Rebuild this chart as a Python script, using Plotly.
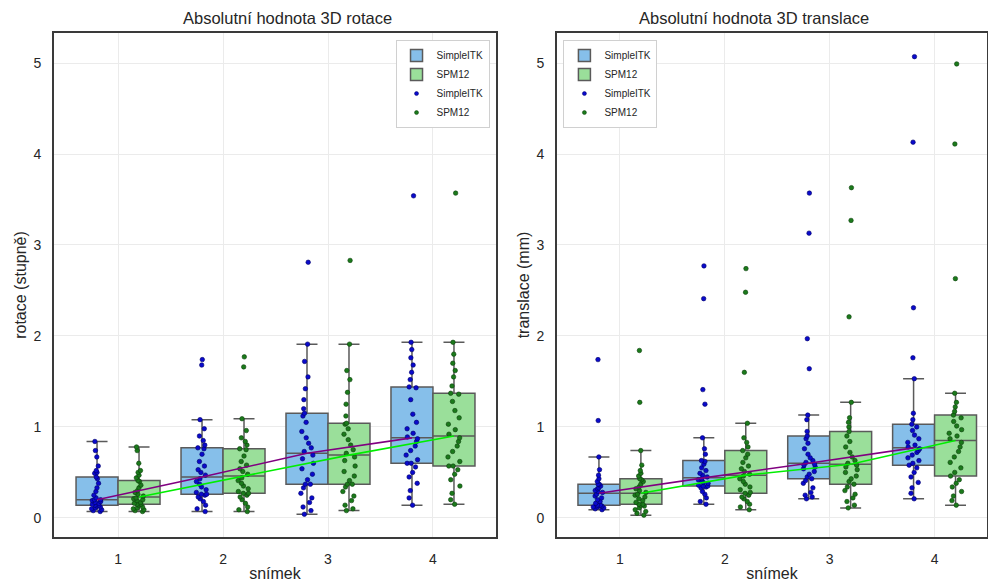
import numpy as np
import plotly.graph_objects as go
from plotly.subplots import make_subplots

# categories (frame number) and methods
snimky = ["1", "2", "3", "4"]
metody = ["SimpleITK", "SPM12"]

# absolute 3D rotation (degrees), one list per frame
rotace_simpleitk = [
    [0.07, 0.08, 0.09, 0.10, 0.11, 0.12, 0.13, 0.14, 0.14, 0.15, 0.16, 0.17, 0.18, 0.19, 0.20,
     0.20, 0.22, 0.25, 0.29, 0.33, 0.38, 0.43, 0.45, 0.49, 0.50, 0.52, 0.57, 0.67, 0.74, 0.84],
    [0.07, 0.10, 0.14, 0.18, 0.21, 0.23, 0.25, 0.26, 0.26, 0.28, 0.31, 0.34, 0.37, 0.40, 0.43,
     0.47, 0.50, 0.53, 0.57, 0.62, 0.70, 0.76, 0.77, 0.80, 0.85, 0.90, 0.98, 1.08, 1.68, 1.74],
    [0.04, 0.08, 0.12, 0.17, 0.22, 0.27, 0.33, 0.37, 0.37, 0.42, 0.48, 0.54, 0.60, 0.65, 0.69,
     0.73, 0.77, 0.82, 0.88, 0.95, 1.05, 1.12, 1.15, 1.20, 1.30, 1.42, 1.55, 1.72, 1.91, 2.81],
    [0.14, 0.22, 0.30, 0.38, 0.45, 0.50, 0.56, 0.60, 0.60, 0.64, 0.69, 0.74, 0.79, 0.84, 0.87,
     0.89, 0.93, 0.98, 1.05, 1.14, 1.30, 1.43, 1.44, 1.52, 1.60, 1.68, 1.76, 1.85, 1.93, 3.54],
]
rotace_spm12 = [
    [0.07, 0.08, 0.09, 0.10, 0.11, 0.12, 0.14, 0.15, 0.15, 0.16, 0.17, 0.19, 0.20, 0.21, 0.22,
     0.24, 0.26, 0.28, 0.30, 0.33, 0.36, 0.40, 0.41, 0.44, 0.47, 0.50, 0.52, 0.60, 0.74, 0.78],
    [0.07, 0.09, 0.12, 0.16, 0.20, 0.23, 0.25, 0.27, 0.27, 0.29, 0.32, 0.35, 0.38, 0.41, 0.44,
     0.48, 0.51, 0.54, 0.58, 0.62, 0.68, 0.75, 0.76, 0.80, 0.84, 0.88, 0.96, 1.09, 1.66, 1.77],
    [0.08, 0.10, 0.14, 0.19, 0.24, 0.29, 0.34, 0.37, 0.37, 0.41, 0.46, 0.51, 0.57, 0.63, 0.67,
     0.71, 0.75, 0.80, 0.86, 0.92, 0.98, 1.03, 1.04, 1.12, 1.25, 1.38, 1.52, 1.62, 1.91, 2.83],
    [0.15, 0.20, 0.27, 0.35, 0.42, 0.48, 0.53, 0.57, 0.57, 0.62, 0.67, 0.73, 0.79, 0.84, 0.88,
     0.92, 0.97, 1.03, 1.10, 1.18, 1.28, 1.36, 1.37, 1.45, 1.55, 1.62, 1.70, 1.80, 1.93, 3.57],
]

# absolute 3D translation (mm), one list per frame
translace_simpleitk = [
    [0.09, 0.10, 0.11, 0.12, 0.12, 0.13, 0.14, 0.14, 0.14, 0.16, 0.18, 0.20, 0.22, 0.24, 0.26,
     0.28, 0.29, 0.30, 0.32, 0.33, 0.35, 0.37, 0.37, 0.40, 0.43, 0.47, 0.53, 0.67, 1.07, 1.74],
    [0.15, 0.18, 0.22, 0.26, 0.29, 0.33, 0.34, 0.35, 0.35, 0.36, 0.38, 0.39, 0.41, 0.42, 0.43,
     0.45, 0.47, 0.49, 0.52, 0.55, 0.59, 0.62, 0.63, 0.70, 0.76, 0.88, 1.25, 1.41, 2.41, 2.77],
    [0.21, 0.23, 0.25, 0.28, 0.33, 0.38, 0.41, 0.43, 0.45, 0.48, 0.51, 0.54, 0.56, 0.58, 0.59,
     0.61, 0.63, 0.66, 0.70, 0.76, 0.82, 0.87, 0.90, 0.95, 1.08, 1.13, 1.64, 1.97, 3.13, 3.57],
    [0.21, 0.27, 0.33, 0.39, 0.45, 0.50, 0.55, 0.58, 0.60, 0.63, 0.66, 0.69, 0.72, 0.74, 0.76,
     0.78, 0.80, 0.83, 0.87, 0.91, 0.96, 1.00, 1.03, 1.08, 1.15, 1.53, 1.76, 2.31, 4.13, 5.07],
]
translace_spm12 = [
    [0.03, 0.05, 0.07, 0.09, 0.11, 0.13, 0.14, 0.15, 0.15, 0.17, 0.19, 0.21, 0.23, 0.25, 0.26,
     0.28, 0.30, 0.32, 0.34, 0.37, 0.40, 0.42, 0.43, 0.46, 0.49, 0.52, 0.58, 0.74, 1.27, 1.84],
    [0.09, 0.12, 0.15, 0.18, 0.21, 0.23, 0.25, 0.27, 0.28, 0.31, 0.34, 0.37, 0.40, 0.43, 0.46,
     0.48, 0.51, 0.54, 0.57, 0.61, 0.66, 0.70, 0.74, 0.78, 0.83, 0.88, 1.04, 1.60, 2.48, 2.74],
    [0.11, 0.14, 0.18, 0.22, 0.26, 0.30, 0.34, 0.37, 0.40, 0.43, 0.46, 0.50, 0.53, 0.56, 0.58,
     0.60, 0.63, 0.67, 0.72, 0.78, 0.84, 0.90, 0.95, 1.00, 1.05, 1.10, 1.27, 2.21, 3.27, 3.63],
    [0.14, 0.19, 0.24, 0.29, 0.34, 0.38, 0.42, 0.46, 0.50, 0.55, 0.61, 0.67, 0.73, 0.78, 0.83,
     0.87, 0.90, 0.93, 0.97, 1.01, 1.06, 1.10, 1.13, 1.17, 1.22, 1.27, 1.37, 2.63, 4.11, 4.99],
]

FONT = "Liberation Sans, Arial, sans-serif"
TEXT = "#262626"
BOX_FILL = {"SimpleITK": "#86BFEA", "SPM12": "#9ADF9A"}
DOT = {"SimpleITK": "#0A0ACC", "SPM12": "#1B7A1B"}
DOT_EDGE = {"SimpleITK": "#000066", "SPM12": "#0B3F0B"}
MEDIAN_LINE = {"SimpleITK": "#800080", "SPM12": "#00EE00"}
DODGE = 0.2
BOX_W = 0.4

fig = make_subplots(rows=1, cols=2, horizontal_spacing=0.0,
                    subplot_titles=("Absolutní hodnota 3D rotace",
                                    "Absolutní hodnota 3D translace"))

panels = [
    (1, {"SimpleITK": rotace_simpleitk, "SPM12": rotace_spm12}, "legend"),
    (2, {"SimpleITK": translace_simpleitk, "SPM12": translace_spm12}, "legend2"),
]

for col, data, leg in panels:
    # boxes with jittered sample points on top
    for k, m in enumerate(metody):
        offset = (k - 0.5) * 2 * DODGE
        xs, ys = [], []
        for i, vals in enumerate(data[m]):
            xs += [i + offset] * len(vals)
            ys += vals
        fig.add_trace(go.Box(
            x=xs, y=ys, name=m, legend=leg, legendgroup=m + leg,
            width=BOX_W, whiskerwidth=0.5,
            fillcolor=BOX_FILL[m], line=dict(color="#5A5A5A", width=1.5),
            boxpoints="all", jitter=0.32, pointpos=0,
            marker=dict(size=4.5, color=DOT[m], line=dict(color=DOT_EDGE[m], width=0.6)),
            showlegend=True,
        ), row=1, col=col)
    # median trend per method
    for k, m in enumerate(metody):
        offset = (k - 0.5) * 2 * DODGE
        med = [float(np.median(v)) for v in data[m]]
        fig.add_trace(go.Scatter(
            x=[i + offset for i in range(len(snimky))], y=med, mode="lines",
            line=dict(color=MEDIAN_LINE[m], width=1.6), showlegend=False, hoverinfo="skip",
        ), row=1, col=col)
    # point markers in the legend
    for m in metody:
        fig.add_trace(go.Scatter(
            x=[None], y=[None], mode="markers", name=m, legend=leg,
            marker=dict(size=4, color=DOT[m], line=dict(color=DOT_EDGE[m], width=0.5)),
        ), row=1, col=col)

axis_common = dict(
    showline=True, mirror=True, linecolor="#3A3A3A", linewidth=2,
    showgrid=True, gridcolor="#EBEBEB", gridwidth=1, zeroline=False,
    ticks="", tickfont=dict(family=FONT, size=14, color=TEXT),
    title_font=dict(family=FONT, size=16, color=TEXT),
)

fig.update_xaxes(**axis_common, tickmode="array", tickvals=list(range(len(snimky))),
                 ticktext=snimky, title_text="snímek", title_standoff=2,
                 ticklabelstandoff=8)
fig.update_xaxes(range=[-0.61, 3.6], domain=[0.0, 0.4737], row=1, col=1)
fig.update_xaxes(range=[-0.6, 3.5], domain=[0.5391, 1.0], row=1, col=2)

fig.update_yaxes(**axis_common, range=[-0.21, 5.33], dtick=1, ticklabelstandoff=8)
fig.update_yaxes(title_text="rotace (stupně)", title_standoff=3, row=1, col=1)
fig.update_yaxes(title_text="translace (mm)", title_standoff=3, row=1, col=2)

for ann in fig.layout.annotations:
    ann.font = dict(family=FONT, size=16.5, color=TEXT)
    ann.yshift = 4

legend_common = dict(
    bgcolor="white", bordercolor="#D0D0D0", borderwidth=1,
    font=dict(family=FONT, size=10, color=TEXT),
    tracegroupgap=0, itemwidth=30, traceorder="normal",
)

fig.update_layout(
    width=988, height=587,
    margin=dict(l=54, r=1, t=33, b=50, autoexpand=False),
    plot_bgcolor="white", paper_bgcolor="white",
    font=dict(family=FONT, color=TEXT),
    boxmode="overlay",
    legend=dict(**legend_common, x=0.4668, xanchor="right", y=0.986, yanchor="top"),
    legend2=dict(**legend_common, x=0.546, xanchor="left", y=0.986, yanchor="top"),
)

fig.write_html("out.html")
